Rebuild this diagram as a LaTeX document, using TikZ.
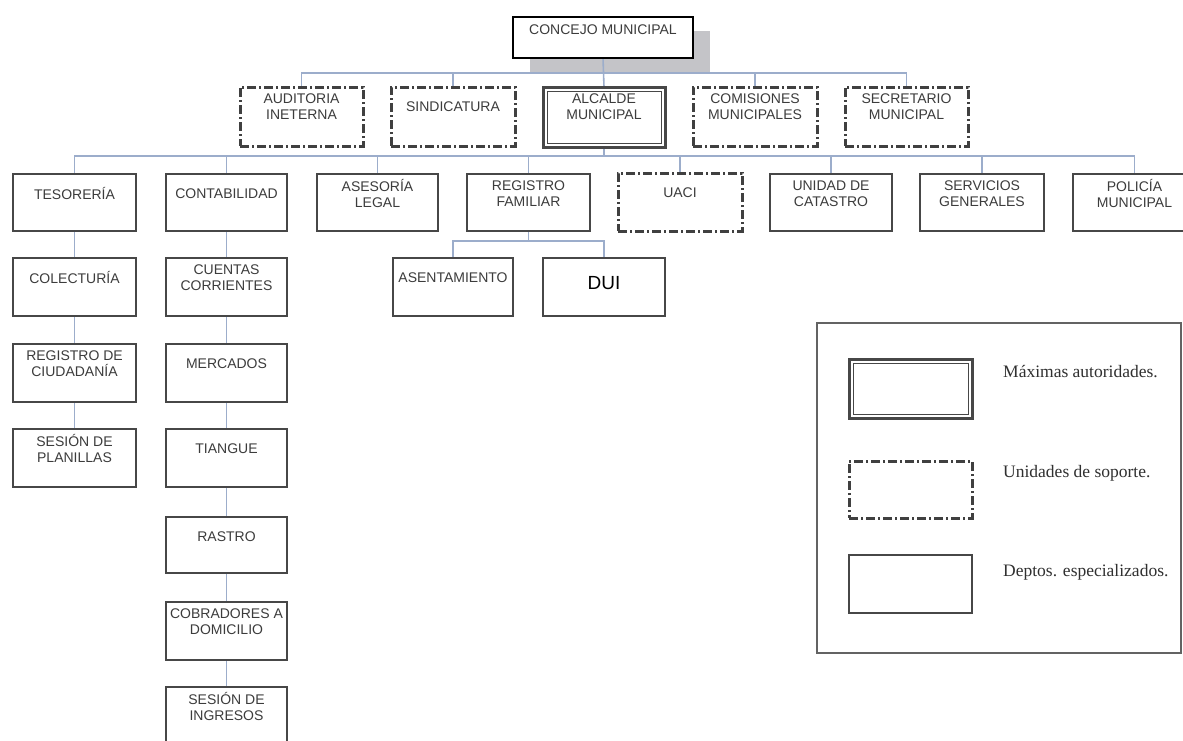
\documentclass[tikz,border=0pt]{standalone}
\usepackage{fontspec}
\setmainfont{Liberation Sans}
\newfontfamily\legendfont{Liberation Serif}
\usetikzlibrary{calc,backgrounds}

\definecolor{linkblue}{HTML}{9CADCB}
\definecolor{boxgray}{HTML}{474747}
\definecolor{txtgray}{HTML}{3C3C3C}
\definecolor{shadowgray}{HTML}{C4C4C8}

\tikzset{
  unitbase/.style={anchor=north west, inner sep=0pt, outer sep=0pt, fill=white},
  dept/.style={unitbase, draw=boxgray, line width=2.1pt},
  support/.style={unitbase, draw=boxgray!90!black, line width=3pt,
                  dash pattern=on 9pt off 3pt on 2pt off 3pt},
  topauth/.style={unitbase, draw=boxgray, line width=3pt},
  council/.style={unitbase, draw=black, line width=2.6pt},
  caption/.style={font=\fontsize{14}{15.5}\selectfont, text=txtgray, align=center},
  conn/.style={draw=linkblue, line width=1.6pt},
  legendtext/.style={font=\legendfont\fontsize{17.5}{20}\selectfont,
                     text=txtgray!80!black, anchor=base west, inner sep=0pt},
}

% [caption offset from top] style, name, x1, y1, x2, y2, caption
\newcommand\orgbox[8][19.5pt]{%
  \node[#2, minimum width={#6pt-#4pt}, minimum height={#7pt-#5pt},
        label={[caption, anchor=center, yshift=-#1]north:#8}] (#3) at (#4,#5) {};}

\begin{document}
\begin{tikzpicture}[x=1pt, y=-1pt]
\path[use as bounding box, clip] (0,0) rectangle (1183,740);

% governing council
\orgbox[13pt]{council}{cm}{513}{17}{693}{58}{CONCEJO MUNICIPAL}

% second level
\orgbox{support}{aud}{240}{87}{363}{146}{AUDITORIA\\INETERNA}
\orgbox{support}{sin}{391}{87}{515}{146}{SINDICATURA}
\orgbox{topauth}{alc}{543}{87}{665}{147}{ALCALDE\\MUNICIPAL}
\orgbox{support}{com}{693}{87}{817}{146}{COMISIONES\\MUNICIPALES}
\orgbox{support}{sec}{845}{87}{968}{146}{SECRETARIO\\MUNICIPAL}
\draw[boxgray, line width=1pt] ([shift={(4,4)}]alc.north west)
  rectangle ([shift={(-4,-4)}]alc.south east);

% third level
\orgbox{dept}{tes}{13}{174}{136}{231}{TESORERÍA}
\orgbox{dept}{con}{166}{174}{287}{231}{CONTABILIDAD}
\orgbox{dept}{ase}{317}{174}{438}{231}{ASESORÍA\\LEGAL}
\orgbox{dept}{reg}{467}{174}{590}{231}{REGISTRO\\FAMILIAR}
\orgbox{support}{uac}{618}{173}{742}{231}{UACI}
\orgbox{dept}{cat}{770}{174}{892}{231}{UNIDAD DE\\CATASTRO}
\orgbox{dept}{ser}{920}{174}{1044}{231}{SERVICIOS\\GENERALES}
\orgbox{dept}{pol}{1073}{174}{1196}{231}{POLICÍA\\MUNICIPAL}

% treasury column
\orgbox{dept}{col}{13}{258}{136}{316}{COLECTURÍA}
\orgbox{dept}{rci}{13}{344}{136}{402}{REGISTRO DE\\CIUDADANÍA}
\orgbox{dept}{spl}{13}{429}{136}{487}{SESIÓN DE\\PLANILLAS}

% accounting column
\orgbox{dept}{ccr}{166}{258}{287}{316}{CUENTAS\\CORRIENTES}
\orgbox{dept}{mer}{166}{344}{287}{402}{MERCADOS}
\orgbox{dept}{tia}{166}{429}{287}{487}{TIANGUE}
\orgbox{dept}{ras}{166}{517}{287}{573}{RASTRO}
\orgbox{dept}{cob}{166}{602}{287}{660}{COBRADORES A\\DOMICILIO}
\orgbox{dept}{sin2}{166}{687}{287}{746}{SESIÓN DE\\INGRESOS}

% family registry
\orgbox{dept}{asn}{393}{258}{513}{316}{ASENTAMIENTO}
\orgbox[25pt]{dept}{dui}{543}{258}{665}{316}{\fontsize{19}{20}\selectfont\color{black}DUI}

% legend
\node[unitbase, draw=boxgray!85, line width=1.8pt, minimum width=364pt, minimum height=330pt]
  (legend) at (817,323) {};
\node[topauth, minimum width=123pt, minimum height=59pt] (lg-top) at (849,359) {};
\draw[boxgray, line width=1pt] ([shift={(4,4)}]lg-top.north west)
  rectangle ([shift={(-4,-4)}]lg-top.south east);
\node[support, minimum width=123pt, minimum height=57pt] (lg-sup) at (849,461) {};
\node[dept, minimum width=123pt, minimum height=58pt] (lg-dep) at (849,555) {};
\node[legendtext] (lg-top-t) at (1003,377) {Máximas autoridades.};
\node[legendtext] (lg-sup-t) at (1003,477) {Unidades de soporte.};
\node[legendtext] (lg-dep-t) at (1003,576) {Deptos. especializados.};

\begin{pgfonlayer}{background}
  \fill[white] (0,0) rectangle (1183,740);
  % council drop shadow
  \fill[shadowgray] ($(cm.north west)+(17,14)$) rectangle ($(cm.south east)+(17,14)$);
  \coordinate (bus2) at (0,73);
  \coordinate (bus3) at (0,156);
  \coordinate (busrf) at (0,241);
  % council to second level
  \draw[conn] (cm.south) -- (alc.north);
  \draw[conn] (aud.north) |- (sec.north |- bus2) -- (sec.north);
  \draw[conn] (sin.north) -- (sin.north |- bus2);
  \draw[conn] (com.north) -- (com.north |- bus2);
  % mayor to third level
  \draw[conn] (alc.south) -- (alc.south |- bus3);
  \draw[conn] (tes.north) |- (pol.north |- bus3) -- (pol.north);
  \foreach \n in {con,ase,reg,uac,cat,ser}
    \draw[conn] (\n.north) -- (\n.north |- bus3);
  % columns
  \draw[conn] (tes) -- (col) -- (rci) -- (spl);
  \draw[conn] (con) -- (ccr) -- (mer) -- (tia) -- (ras) -- (cob) -- (sin2);
  % family registry branches
  \draw[conn] (reg.south) -- (reg.south |- busrf);
  \draw[conn] (asn.north) |- (dui.north |- busrf) -- (dui.north);
\end{pgfonlayer}
\end{tikzpicture}
\end{document}
